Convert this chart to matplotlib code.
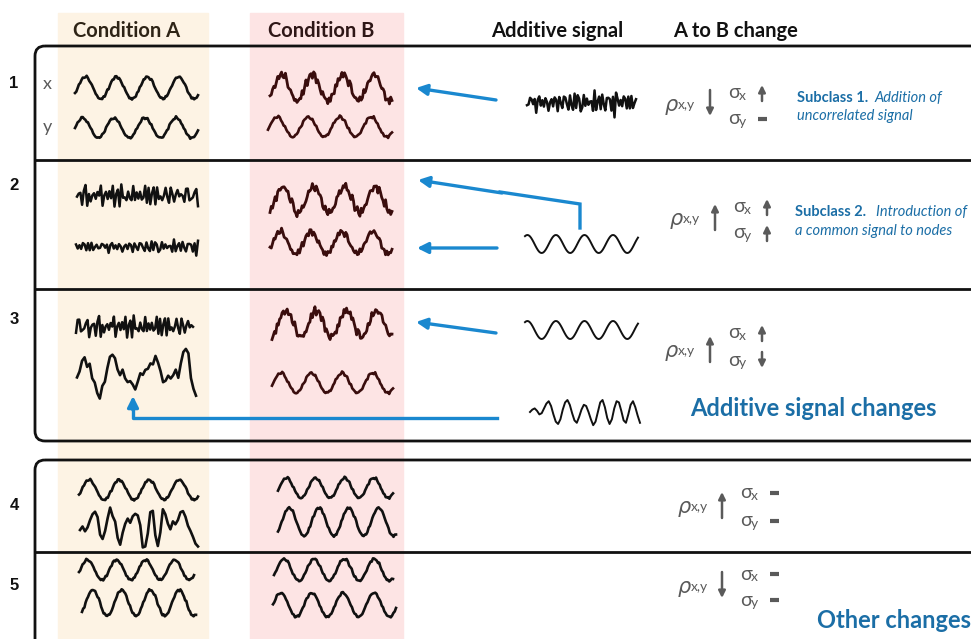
import numpy as np
import matplotlib.pyplot as plt
from matplotlib.patches import Rectangle, FancyBboxPatch

# one period of the smooth carrier wave, read as 24 samples
period = [0.0, 0.26, 0.5, 0.71, 0.87, 0.97, 1.0, 0.97, 0.87, 0.71, 0.5, 0.26,
          0.0, -0.26, -0.5, -0.71, -0.87, -0.97, -1.0, -0.97, -0.87, -0.71, -0.5, -0.26]

# jitter
j1 = [0.2, -0.5, 0.4, 0.9, -0.3, 0.1, -0.8, 0.5, 0.3, -0.2, 0.7, -0.6,
      0.0, 0.4, -0.9, 0.6, 0.2, -0.4, 0.8, -0.1, -0.7, 0.3, 0.5, -0.5,
      0.1, 0.9, -0.3, -0.6, 0.4, 0.2, -0.8, 0.7, -0.2, 0.3, 0.6, -0.9,
      0.1, 0.5, -0.4, 0.8, -0.6, 0.2, 0.0, -0.3, 0.9, -0.7, 0.4, 0.1,
      -0.5, 0.6, 0.3, -0.8, 0.2, 0.7, -0.1, -0.4, 0.5, -0.9, 0.8, 0.0,
      -0.2, 0.6, -0.5, 0.3, 0.9, -0.6, 0.1, -0.3, 0.7, -0.8, 0.4, 0.2,
      -0.1, 0.5, -0.7, 0.9, -0.4, 0.0, 0.6, -0.2, 0.3, -0.9, 0.8, -0.5,
      0.1, 0.4, -0.6, 0.7, -0.3, 0.2, 0.5, -0.8, 0.0, 0.6, -0.4, 0.3]
j2 = [-0.3, 0.6, -0.1, -0.7, 0.4, 0.8, -0.5, 0.2, -0.9, 0.3, 0.1, -0.4,
      0.7, -0.2, 0.5, -0.8, 0.0, 0.9, -0.6, 0.3, -0.1, 0.6, -0.7, 0.2,
      0.4, -0.5, 0.8, -0.3, 0.1, -0.9, 0.5, 0.2, -0.6, 0.7, -0.1, 0.3,
      -0.8, 0.6, 0.0, -0.4, 0.9, -0.2, 0.4, -0.7, 0.1, 0.5, -0.3, 0.8,
      -0.6, 0.2, -0.9, 0.4, 0.7, -0.1, -0.5, 0.3, 0.6, -0.8, 0.1, 0.9,
      -0.4, 0.0, 0.5, -0.7, 0.3, 0.8, -0.2, -0.6, 0.4, -0.1, 0.7, -0.9,
      0.2, 0.6, -0.3, 0.1, -0.8, 0.5, 0.9, -0.4, 0.0, 0.3, -0.6, 0.7,
      -0.2, 0.4, -0.5, 0.8, -0.1, -0.7, 0.6, 0.2, -0.9, 0.3, 0.5, -0.3]

# irregular traces
irr_3a = [-0.3, 0.1, 0.5, 0.6, 0.3, 0.4, -0.2, -0.6, -1.1, -1.3, -0.8, -0.4,
          0.2, 0.7, 1.0, 0.6, 0.1, -0.1, 0.0, -0.3, -0.4, -0.5, -0.7, -0.8,
          -0.5, -0.2, -0.1, 0.2, 0.1, 0.4, 0.5, 0.7, 0.5, 0.0, -0.6, -0.3,
          -0.2, -0.4, -0.1, 0.0, -0.2, 0.4, 1.0, 1.2, 0.8, -0.2, -0.9, -1.2]
irr_4a = [-0.2, -0.1, -0.3, 0.0, 0.3, 0.6, 0.9, 0.5, -0.4, -0.8, -0.3, 0.5,
          1.0, 0.6, 0.2, -0.6, -1.1, -0.5, 0.2, 0.4, 0.2, 0.5, 0.8, 0.6,
          0.0, -1.2, -1.3, -0.4, 0.8, 1.0, -0.6, -1.2, -0.3, 0.9, 0.7, 0.1,
          -0.1, 0.2, 0.1, 0.4, 0.7, 0.9, 0.5, 0.1, -0.3, -0.7, -1.0, -1.3]
irr_add = [0.0, 0.2, 0.3, 0.1, -0.2, -0.1, 0.3, 0.7, 0.9, 0.5, -0.2, -0.8,
           -1.0, -0.6, 0.2, 0.8, 1.0, 0.6, -0.1, -0.7, -0.9, -0.4, 0.2, 0.6,
           0.5, 0.0, -0.6, -1.1, -0.8, 0.0, 0.8, 1.0, 0.4, -0.5, -1.0, -0.6,
           0.3, 0.9, 0.8, 0.1, -0.7, -0.9, -0.2, 0.6, 0.9, 0.4, -0.3, -0.9]

columns = ["Condition A", "Condition B", "Additive signal", "A to B change"]
row_labels = ["1", "2", "3", "4", "5"]
rho_dir = ["down", "up", "up", "up", "down"]
sx_dir = ["up", "up", "up", "same", "same"]
sy_dir = ["same", "up", "down", "same", "same"]

wave = np.tile(np.array(period), 4)
J1 = np.array(j1)
J2 = np.array(j2)
# smoother jitter for the noisy waves, raw jitter for the noise traces
S1 = (J1 + np.roll(J1, 1) + np.roll(J2, 2)) / 2
S2 = (J2 + np.roll(J2, 1) + np.roll(J1, 3)) / 2
noise = (J1 + 0.6 * np.roll(J2, 7))[:72]
noise2 = (J2 + 0.6 * np.roll(J1, 11))[:72]

BLACK = "#111111"
BROWN = "#3a0d0d"
BLUE = "#1a88cf"
TBLUE = "#1b6ea6"
GREY = "#5a5a5a"

fig = plt.figure(figsize=(9.71, 6.39), dpi=100)
ax = fig.add_axes([0, 0, 1, 1])
ax.set_xlim(0, 971)
ax.set_ylim(639, 0)
ax.axis("off")

# column backgrounds
ax.add_patch(Rectangle((58, 13), 150, 630, color="#fdf3e4", zorder=0))
ax.add_patch(Rectangle((250, 13), 153, 630, color="#fde4e4", zorder=0))

hdr = dict(ha="center", va="center", fontsize=14.5, fontweight="bold", family="Lato")
ax.text(127, 31, columns[0], color="#2e2416", **hdr)
ax.text(321, 31, columns[1], color="#2e1616", **hdr)
ax.text(557, 31, columns[2], color=BLACK, **hdr)
ax.text(736, 31, columns[3], color=BLACK, **hdr)

# boxes
for (y0, h) in [(46, 395), (460, 260)]:
    ax.add_patch(FancyBboxPatch((35, y0), 1000, h, boxstyle="round,pad=0,rounding_size=10",
                                fill=False, ec=BLACK, lw=2, zorder=3))
for yl in [160, 289, 552]:
    ax.plot([35, 971], [yl, yl], color=BLACK, lw=2, zorder=3)

for lab, yy in zip(row_labels, [84, 185, 320, 505, 585]):
    ax.text(14, yy, lab, ha="center", va="center", fontsize=12, fontweight="bold",
            family="Liberation Sans", color=BLACK)
ax.text(47, 84, "x", ha="center", va="center", fontsize=13, color=GREY, family="Lato")
ax.text(47, 127, "y", ha="center", va="center", fontsize=13, color=GREY, family="Lato")


def trace(x0, x1, yc, y, amp, color=BLACK, lw=1.9):
    y = np.asarray(y)
    xs = np.linspace(x0, x1, len(y))
    ax.plot(xs, yc - amp * y, color=color, lw=lw, zorder=4, solid_joinstyle="round")


def noisy_wave(a, jit, shift=0, jarr=S1):
    return a * np.roll(wave, shift) + jit * np.roll(jarr, shift * 3)


# row 1
trace(75, 198, 88, noisy_wave(1, 0.15, 2), 11)
trace(75, 198, 128, noisy_wave(1, 0.15, 0, S2), 10)
trace(270, 392, 88, noisy_wave(1, 0.45, 3), 13, BROWN, 2.0)
trace(268, 392, 127, noisy_wave(1, 0.18, 1, S2), 10, BROWN)
trace(527, 636, 103, noise, 10, BLACK, 1.8)

# row 2
trace(77, 198, 196, noise2, 10, BLACK, 1.8)
trace(76, 198, 247, np.roll(noise, 13), 6, BLACK, 1.8)
trace(270, 392, 200, noisy_wave(1, 0.45, 4, S2), 13, BROWN, 2.0)
trace(270, 392, 243, noisy_wave(1, 0.4, 2), 11, BROWN, 2.0)
trace(525, 638, 244, np.roll(wave, 20), 9, BLACK, 1.4)

# row 3
trace(76, 193, 327, np.roll(noise2, 9), 10, BLACK, 1.8)
trace(77, 196, 372, np.array(irr_3a) + 0.15 * J1[:48], 20)
trace(272, 392, 324, noisy_wave(1, 0.45, 5), 13, BROWN, 2.0)
trace(272, 393, 383, noisy_wave(1, 0.18, 1, S2), 10, BROWN)
trace(525, 638, 330, np.roll(wave, 20), 9, BLACK, 1.4)
trace(530, 640, 412, irr_add, 12, BLACK, 1.4)

# row 4
trace(79, 198, 490, noisy_wave(1, 0.15, 2), 10)
trace(80, 198, 526, np.array(irr_4a) + 0.12 * J2[:48], 17)
trace(278, 393, 488, noisy_wave(1, 0.15, 1, S2), 10)
trace(278, 396, 522, noisy_wave(1, 0.12, 3), 14)

# row 5
trace(79, 194, 570, noisy_wave(1, 0.15, 1), 10)
trace(82, 196, 603, noisy_wave(1, 0.13, 3, S2), 13)
trace(274, 393, 570, noisy_wave(1, 0.15, 2, S2), 11)
trace(273, 396, 605, noisy_wave(1, 0.12, 0), 12)


# blue arrows
def blue_arrow(p0, p1):
    ax.annotate("", xy=p1, xytext=p0,
                arrowprops=dict(arrowstyle="-|>", color=BLUE, lw=2.4, mutation_scale=16,
                                shrinkA=0, shrinkB=0), zorder=5)


blue_arrow((496, 100), (416, 88))
ax.plot([580, 580, 500], [228, 204, 192], color=BLUE, lw=2.4, zorder=5, solid_joinstyle="miter")
blue_arrow((502, 193), (418, 180))
blue_arrow((497, 248), (417, 248))
blue_arrow((496, 333), (416, 322))
ax.plot([497, 133, 133], [418, 418, 408], color=BLUE, lw=2.4, zorder=5)
blue_arrow((133, 410), (133, 396))


# change column
def small_arrow(x, y0, y1):
    ax.annotate("", xy=(x, y1), xytext=(x, y0),
                arrowprops=dict(arrowstyle="-|>", color=GREY, lw=1.8, mutation_scale=10,
                                shrinkA=0, shrinkB=0), zorder=5)


def marker(kind, x, y, half):
    if kind == "up":
        small_arrow(x, y + half, y - half)
    elif kind == "down":
        small_arrow(x, y - half, y + half)
    else:
        ax.plot([x - 4.5, x + 4.5], [y, y], color=GREY, lw=3, solid_capstyle="butt")


changes_xy = [(665, 104, 0), (670, 218, 5), (665, 350, 0), (678, 506, 12), (678, 586, 12)]
sig_y = [(93, 119), (207, 233), (333, 360), (493, 521), (574, 600)]
for i, (rx, ry, dx) in enumerate(changes_xy):
    ax.text(rx, ry + 1, "ρ", fontsize=15, color=GREY, ha="left", va="center",
            family="DejaVu Sans", style="italic")
    ax.text(rx + 13, ry + 1, "x,y", fontsize=10, color=GREY, ha="left", va="center",
            family="Lato")
    marker(rho_dir[i], 710 + dx, ry - 1, 13)
    sx, sy = sig_y[i]
    ax.text(728 + dx, sx, "σ", fontsize=14, color=GREY, ha="left", va="center", family="Lato")
    ax.text(739 + dx, sx + 3, "x", fontsize=10, color=GREY, ha="left", va="center", family="Lato")
    ax.text(728 + dx, sy, "σ", fontsize=14, color=GREY, ha="left", va="center", family="Lato")
    ax.text(739 + dx, sy + 3, "y", fontsize=10, color=GREY, ha="left", va="center", family="Lato")
    marker(sx_dir[i], 762 + dx, sx, 8)
    marker(sy_dir[i], 762 + dx, sy, 8)

sub = dict(fontsize=10.5, color=TBLUE, family="Lato", va="center")
ax.text(797, 98, "Subclass 1.", fontweight="bold", **sub)
ax.text(874, 98, "Addition of", style="italic", **sub)
ax.text(797, 116, "uncorrelated signal", style="italic", **sub)
ax.text(795, 212, "Subclass 2.", fontweight="bold", **sub)
ax.text(876, 212, "Introduction of", style="italic", **sub)
ax.text(795, 231, "a common signal to nodes", style="italic", **sub)
ax.text(690, 409, "Additive signal changes", fontsize=17, fontweight="bold", color=TBLUE,
        family="Lato", va="center")
ax.text(817, 621, "Other changes", fontsize=17, fontweight="bold", color=TBLUE,
        family="Lato", va="center")

fig.savefig("out.png", dpi=100)
